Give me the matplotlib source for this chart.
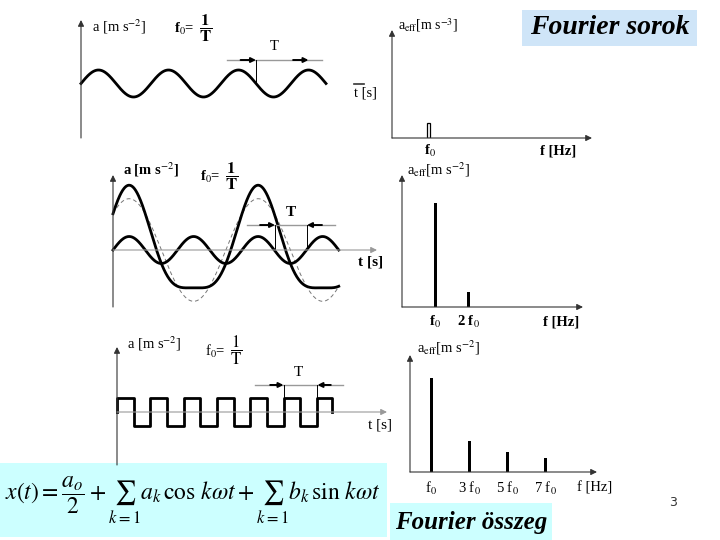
import numpy as np
import matplotlib.pyplot as plt
from matplotlib.patches import Rectangle

plt.rcParams['mathtext.fontset'] = 'stix'
plt.rcParams['font.family'] = ['Liberation Serif', 'DejaVu Serif']

W, H = 720, 540

# --- data ---
# top row: one sine, 3.5 periods long
sine_amp = 1.0
sine_len = 3.5                      # in units of T
spec1_k = [1]
spec1_a = [1.0]

# middle row: fundamental + 2nd harmonic
mix_amp = [3.8, 1.0]
mix_phase = [np.pi / 4, 0.0]
mix_len = 1.75
spec2_k = [1, 2]
spec2_a = [1.0, 0.145]
spec2_labels = ['f$_0$', '2 f$_0$']

# bottom row: square wave and its odd harmonics
sq_amp = 1.0
sq_len = 6.45
spec3_k = [1, 3, 5, 7]
spec3_a = [1.0, 0.33, 0.21, 0.15]
spec3_labels = ['f$_0$', '3 f$_0$', '5 f$_0$', '7 f$_0$']

fig = plt.figure(figsize=(7.2, 5.4), dpi=100)
fig.patch.set_facecolor('white')


def panel(box, origin, sx, sy):
    # box/origin in slide pixels, sx/sy = pixels per data unit
    x0, y0, x1, y1 = box
    ox, oy = origin
    ax = fig.add_axes([x0 / W, 1 - y1 / H, (x1 - x0) / W, (y1 - y0) / H])
    ax.set_xlim((x0 - ox) / sx, (x1 - ox) / sx)
    ax.set_ylim((oy - y1) / sy, (oy - y0) / sy)
    ax.axis('off')
    return ax


def arrow(ax, p0, p1, coords, color='#333333', lw=0.8, ms=9):
    ax.annotate('', xy=p1, xytext=p0, xycoords=coords, textcoords=coords,
                annotation_clip=False,
                arrowprops=dict(arrowstyle='-|>', color=color, lw=lw,
                                mutation_scale=ms, shrinkA=0, shrinkB=0))


def axes_arrows(ax, horiz=True, hcolor='#333333'):
    arrow(ax, (0, 0), (0, 1), ax.get_xaxis_transform())
    if horiz:
        arrow(ax, (0, 0), (1, 0), ax.get_yaxis_transform(), color=hcolor)


def ptext(x, y, s, size=10, ha='left', **kw):
    fig.text(x / W, 1 - y / H, s, size=size, ha=ha, va='center', **kw)


def f0_label(x, y, bold=False):
    w = 'bold' if bold else 'normal'
    ptext(x, y + 1, 'f$_0$=', 10.5, weight=w)
    frac = r'$\mathbf{\dfrac{1}{T}}$' if bold else r'$\dfrac{1}{\mathrm{T}}$'
    ptext(x + 25, y, frac, 12)


def t_marker(ax, x0, x1, y, left, right, ybot, arrows):
    ax.plot([x0, x1], [y, y], color='#999999', lw=1.0, clip_on=False)
    for xv, yb in zip([left, right], ybot):
        if xv is not None:
            ax.plot([xv, xv], [y, yb], color='black', lw=0.7, clip_on=False)
    for a0, a1 in arrows:
        arrow(ax, (a0, y), (a1, y), 'data', color='black', lw=1.4, ms=7)


# ---------- top left: sine ----------
ax1 = panel((81, 20, 380, 138), (81, 83.5), 70, 13.5)
t1 = np.linspace(0, sine_len, 500)
ax1.plot(t1, sine_amp * np.sin(2 * np.pi * t1), color='black', lw=2.0,
         clip_on=False)
axes_arrows(ax1, horiz=False)
ax1.plot([3.9, 4.04], [0, 0], color='#333333', lw=1.2, clip_on=False)
t_marker(ax1, 2.09, 3.44, 1.74, 2.5, None, [0, 0],
         [(2.28, 2.5), (3.03, 3.25)])
ptext(92, 27, 'a [m s$^{-2}$]', 10.5)
f0_label(174, 28, bold=True)
ptext(274, 47, 'T', 10.5, ha='center')
ptext(354, 93, 't [s]', 10.5)

# ---------- top right: spectrum ----------
ax2 = panel((392, 30, 592, 138), (392, 138), 37, 15)
ax2.bar(spec1_k, spec1_a, width=3 / 37, facecolor='white',
        edgecolor='black', lw=0.9)
axes_arrows(ax2)
ptext(398, 25, r'a$_{\rm eff}$[m s$^{-3}$]', 10)
ptext(430, 151, 'f$_0$', 10.5, ha='center', weight='bold')
ptext(540, 151, 'f [Hz]', 10.5, weight='bold')

# ---------- middle left: two harmonics ----------
ax3 = panel((113, 175, 377, 307), (113, 250), 129, 13.5)
t3 = np.linspace(0, mix_len, 600)
fund = mix_amp[0] * np.sin(2 * np.pi * t3 + mix_phase[0])
harm2 = mix_amp[1] * np.sin(4 * np.pi * t3 + mix_phase[1])
ax3.plot(t3, fund, color='#777777', lw=0.7, ls=(0, (4, 3)), clip_on=False)
ax3.plot(t3, harm2, color='black', lw=2.0, clip_on=False)
ax3.plot(t3, fund + harm2, color='black', lw=2.0, clip_on=False)
arrow(ax3, (0, 0), (0, 1), ax3.get_xaxis_transform())
arrow(ax3, (0, 0), (1, 0), ax3.get_yaxis_transform(), color='#999999')
t_marker(ax3, 1.04, 1.72, 1.85, 1.256, 1.504, [0, 0],
         [(1.14, 1.256), (1.62, 1.504)])
ptext(123, 170, 'a [m s$^{-2}$]', 10.5, weight='bold')
f0_label(200, 176, bold=True)
ptext(291, 212, 'T', 11, ha='center', weight='bold')
ptext(358, 262, 't [s]', 11, weight='bold')

# ---------- middle right: spectrum ----------
ax4 = panel((402, 175, 583, 307), (402, 307), 33, 104)
ax4.bar(spec2_k, spec2_a, width=3 / 33, color='black')
axes_arrows(ax4)
ptext(407, 170, r'a$_{\rm eff}$[m s$^{-2}$]', 10.5)
for k, lab in zip(spec2_k, spec2_labels):
    ptext(402 + 33 * k, 322, lab, 10.5, ha='center', weight='bold')
ptext(543, 322, 'f [Hz]', 10.5, weight='bold')

# ---------- bottom left: square wave ----------
ax5 = panel((117, 347, 387, 465), (117, 412), 33.3, 14)
edges = np.arange(0, sq_len, 0.5)
levels = sq_amp * np.where(np.arange(len(edges)) % 2 == 0, 1, -1)
t_sq = np.concatenate([[0], edges, [sq_len, sq_len]])
y_sq = np.concatenate([[0], levels, [levels[-1], 0]])
ax5.plot(t_sq, y_sq, color='black', lw=2.0, drawstyle='steps-post',
         clip_on=False)
arrow(ax5, (0, 0), (0, 1), ax5.get_xaxis_transform())
arrow(ax5, (0, 0), (1, 0), ax5.get_yaxis_transform(), color='#999999')
t_marker(ax5, 4.14, 6.79, 1.93, 5.0, 6.0, [1, 1],
         [(4.6, 5.0), (6.42, 6.02)])
ptext(127, 344, 'a [m s$^{-2}$]', 10.5)
f0_label(205, 350)
ptext(298, 372, 'T', 11, ha='center')
ptext(368, 425, 't [s]', 11)

# ---------- bottom right: spectrum ----------
ax6 = panel((410, 355, 597, 472), (412, 472), 19, 94)
ax6.bar(spec3_k, spec3_a, width=3 / 19, color='black')
arrow(ax6, (-2 / 19, 0), (-2 / 19, 1), ax6.get_xaxis_transform())
arrow(ax6, (0, 0), (1, 0), ax6.get_yaxis_transform())
ptext(417, 348, r'a$_{\rm eff}$[m s$^{-2}$]', 10.5)
for k, lab in zip(spec3_k, spec3_labels):
    ptext(412 + 19 * k, 488, lab, 10.5, ha='center')
ptext(577, 488, 'f [Hz]', 10.5)

# ---------- slide decorations ----------
for x0, y0, x1, y1, c in [(522, 10, 697, 46, '#cfe5f8'),
                          (0, 463, 387, 537, '#ccffff'),
                          (390, 503, 552, 540, '#ccffff')]:
    fig.add_artist(Rectangle((x0 / W, 1 - y1 / H), (x1 - x0) / W,
                             (y1 - y0) / H, transform=fig.transFigure,
                             facecolor=c, edgecolor='none', zorder=0))

ptext(610, 28, 'Fourier sorok', 20, ha='center', style='italic',
      weight='bold')
ptext(471, 522, 'Fourier összeg', 18, ha='center', style='italic',
      weight='bold')
ptext(5, 500, r'$x(t) = \dfrac{a_o}{2} + \sum_{k=1} a_k\,\cos\, k\omega t'
      r' + \sum_{k=1} b_k\,\sin\, k\omega t$', 17)
ptext(673, 503, '3', 9, ha='center', family='DejaVu Sans', color='#333333')

fig.savefig('out.png', dpi=100)
